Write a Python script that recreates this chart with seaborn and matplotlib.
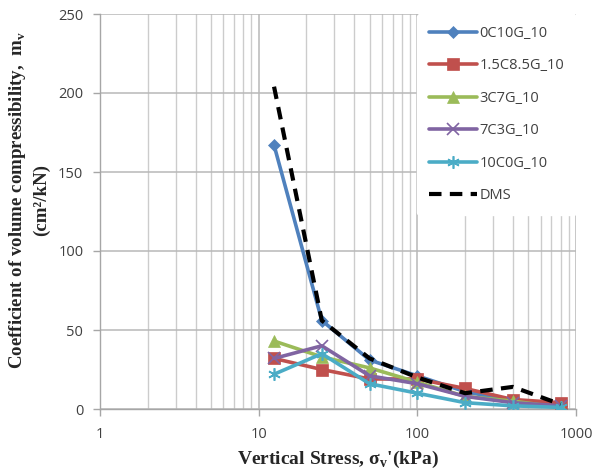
import numpy as np
import pandas as pd
import matplotlib
matplotlib.use("Agg")
import matplotlib.pyplot as plt
import seaborn as sns
from matplotlib.ticker import LogLocator, FixedLocator, NullFormatter, FuncFormatter

stress = [12.5, 25, 50, 100, 200, 400, 800]
s_0C10G = [167, 56, 31, 21, 11, 5, 2]
s_15C85G = [32, 25, 19, 19, 13, 6, 4]
s_3C7G = [43, 33, 26, 17, 8, 5, 1]
s_7C3G = [32, 40, 21, 16, 8, 4, 2]
s_10C0G = [22, 35, 16, 10, 4, 2, 1]
s_DMS = [204, 56, 32, 20, 10, 14, 3]

names = ["0C10G_10", "1.5C8.5G_10", "3C7G_10", "7C3G_10", "10C0G_10", "DMS"]
series = [s_0C10G, s_15C85G, s_3C7G, s_7C3G, s_10C0G, s_DMS]
colors = ["#4F81BD", "#C0504D", "#9BBB59", "#8064A2", "#4BACC6", "black"]
markers = ["D", "s", "^", "x", (6, 2, 0), None]
msizes = [6, 8, 8, 8, 9, 0]

sns.set_theme(style="white")
plt.rcParams["font.family"] = ["Open Sans", "DejaVu Sans"]

fig = plt.figure(figsize=(5.93, 4.73), dpi=100)
ax = fig.add_axes([100/593, 1 - 409/473, 476/593, 395/473])

for name, vals, c, m, ms in zip(names, series, colors, markers, msizes):
    df = pd.DataFrame({"x": stress, "y": vals})
    if name == "DMS":
        sns.lineplot(data=df, x="x", y="y", ax=ax, color=c, lw=3,
                     linestyle=(0, (3, 2)), label=name, zorder=4)
    else:
        sns.lineplot(data=df, x="x", y="y", ax=ax, color=c, lw=2.6,
                     marker=m, markersize=ms, markeredgecolor=c,
                     markeredgewidth=1.2 if m in ("x",) or isinstance(m, tuple) else 0.5,
                     label=name, zorder=3)

ax.set_xscale("log")
ax.set_xlim(1, 1000)
ax.set_ylim(0, 250)
ax.set_yticks([0, 50, 100, 150, 200, 250])
ax.xaxis.set_major_locator(FixedLocator([1, 10, 100, 1000]))
ax.xaxis.set_major_formatter(FuncFormatter(lambda v, p: f"{int(round(v))}"))
ax.xaxis.set_minor_locator(LogLocator(base=10, subs=np.arange(2, 10)))
ax.xaxis.set_minor_formatter(NullFormatter())

ax.grid(True, which="major", axis="both", color="#B8B8B8", lw=1.1)
ax.grid(True, which="minor", axis="x", color="#CCCCCC", lw=1.0)
ax.set_axisbelow(True)
for sp in ["top", "right"]:
    ax.spines[sp].set_visible(False)
for sp in ["left", "bottom"]:
    ax.spines[sp].set_color("#A6A6A6")
    ax.spines[sp].set_linewidth(1.0)

ax.tick_params(axis="both", which="major", labelsize=10.5, colors="#A6A6A6",
               labelcolor="#404040", length=5, width=1, direction="out",
               bottom=True, left=True)
ax.tick_params(axis="x", which="minor", length=0)
ax.tick_params(axis="x", pad=8)
ax.tick_params(axis="y", pad=7)

ax.set_xlabel("Vertical Stress, σ$_\\mathregular{v}$'(kPa)", family="Liberation Serif",
              fontweight="bold", fontsize=14, labelpad=5)
ax.set_ylabel("Coefficient of volume compressibility,  m$_\\mathregular{v}$\n(cm²/kN)",
              family="Liberation Serif", fontweight="bold", fontsize=13.6,
              linespacing=1.4)
ax.yaxis.set_label_coords(-0.104, 0.53)

leg = ax.legend(loc="upper right", bbox_to_anchor=(1.0, 1.0), frameon=True,
                fontsize=10.5, handlelength=3.3, labelspacing=1.2, handletextpad=0.2,
                borderpad=0.8, borderaxespad=0.0)
leg.get_frame().set_facecolor("white")
leg.get_frame().set_edgecolor("white")
leg.get_frame().set_alpha(1)
for t in leg.get_texts():
    t.set_color("#404040")

fig.savefig("out.png", dpi=100)
